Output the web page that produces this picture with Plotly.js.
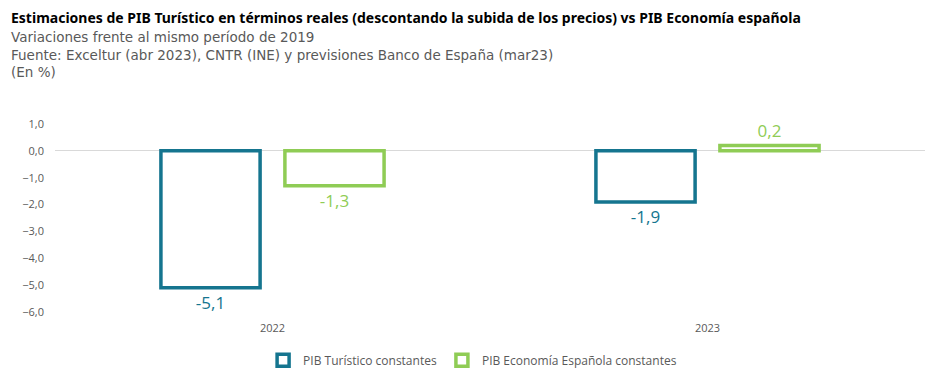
<!DOCTYPE html>
<html>
<head>
<meta charset="utf-8">
<script src="https://cdn.plot.ly/plotly-3.0.1.min.js"></script>
<style>html,body{margin:0;padding:0;background:#fff;}#chart{width:943px;height:389px;}</style>
</head>
<body>
<div id="chart"></div>
<script>
const categories = ["2022", "2023"];
const seriesNames = ["PIB Turístico constantes", "PIB Economía Española constantes"];
const pibTuristico = [-5.1, -1.9];
const pibEconomia = [-1.3, 0.2];
const tickValues = [1, 0, -1, -2, -3, -4, -5, -6];
const titleText = "<b>Estimaciones de PIB Turístico en términos reales (descontando la subida de los precios) vs PIB Economía española</b>";
const subtitleLines = [
  "Variaciones frente al mismo período de 2019",
  "Fuente: Exceltur (abr 2023), CNTR (INE) y previsiones Banco de España (mar23)",
  "(En %)"
];

const blue = "#15758f";
const green = "#8fcc55";

const traces = [
  {
    type: "bar", name: seriesNames[0], x: categories, y: pibTuristico,
    marker: {color: "#ffffff", line: {color: blue, width: 3.5}},
    texttemplate: "%{y:.1f}", textposition: "outside", cliponaxis: false,
    textfont: {color: blue, size: 17, family: "Open Sans"}
  },
  {
    type: "bar", name: seriesNames[1], x: categories, y: pibEconomia,
    marker: {color: "#ffffff", line: {color: green, width: 3.5}},
    texttemplate: "%{y:.1f}", textposition: "outside", cliponaxis: false,
    textfont: {color: green, size: 17, family: "Open Sans"}
  }
];

const annotations = [
  {xref: "paper", yref: "paper", x: 0, y: 1, xanchor: "left", yanchor: "middle", showarrow: false, align: "left",
   xshift: -46, yshift: 107, text: titleText,
   font: {family: "Noto Sans", size: 14, color: "#000000"}},
  {xref: "paper", yref: "paper", x: 0, y: 1, xanchor: "left", yanchor: "top", showarrow: false, align: "left",
   xshift: -46, yshift: 97, text: subtitleLines.join("<br>"),
   font: {family: "DejaVu Sans", size: 13.5, color: "#595959"}}
];

const layout = {
  width: 943, height: 389,
  separators: ",.",
  paper_bgcolor: "#ffffff", plot_bgcolor: "#ffffff",
  margin: {l: 55, r: 18, t: 124, b: 77},
  bargap: 0.43, bargroupgap: 0.2,
  showlegend: true,
  legend: {orientation: "h", x: 0.48, xanchor: "center", y: -0.18, yanchor: "top",
           font: {family: "Open Sans", size: 12, color: "#595959"}, itemwidth: 30, traceorder: "normal"},
  xaxis: {type: "category", showgrid: false, showline: false, ticks: "",
          tickfont: {family: "Open Sans", size: 11, color: "#595959"}, ticklabelstandoff: 8},
  yaxis: {range: [-6, 1], tickvals: tickValues, tickformat: ".1f", showgrid: false,
          zeroline: true, zerolinecolor: "#d9d9d9", zerolinewidth: 1, showline: false,
          tickfont: {family: "Open Sans", size: 11, color: "#595959"}, ticklabelstandoff: 10},
  annotations: annotations
};

Plotly.newPlot("chart", traces, layout, {displayModeBar: false, staticPlot: true});
</script>
</body>
</html>
